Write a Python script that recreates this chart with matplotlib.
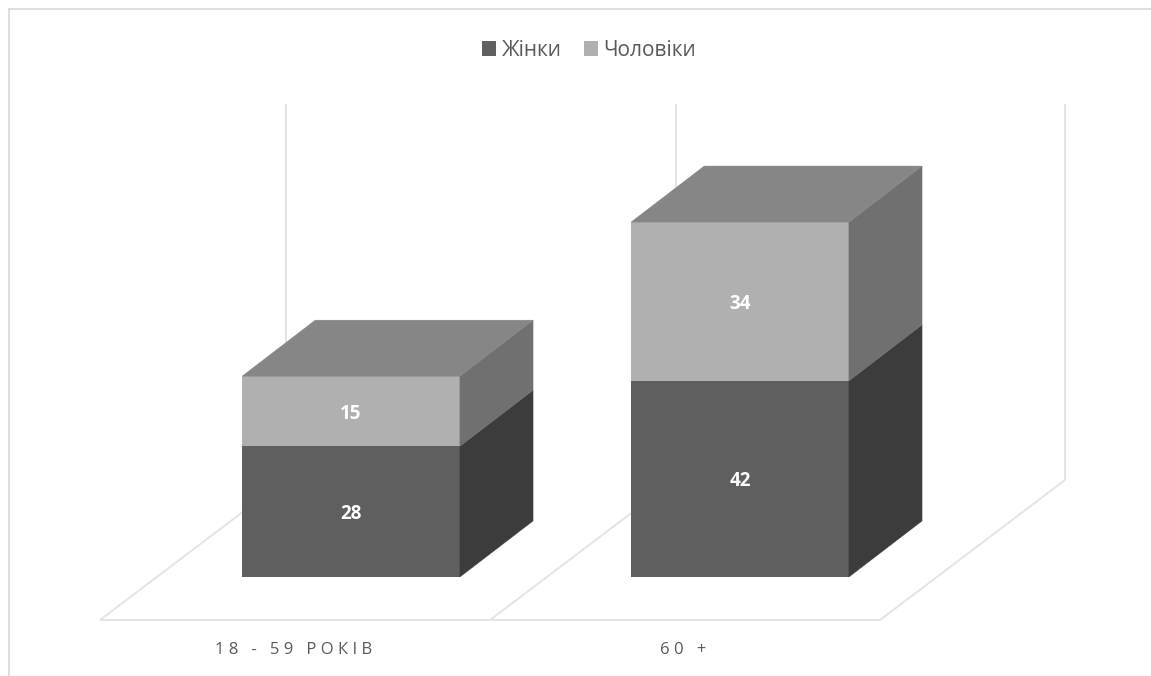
#!/usr/bin/env python3
import matplotlib
matplotlib.use('Agg')
import matplotlib.pyplot as plt
from matplotlib.patches import Patch, Polygon

categories = ['18 - 59 РОКІВ', '60 +']
women = [28, 42]
men = [15, 34]
series_names = ['Жінки', 'Чоловіки']

WIDTH, HEIGHT = 1151, 676
BAR_WIDTH = 0.56
DEPTH_X, DEPTH_Y = 0.188, 12.0   # how far the box top recedes
PX_X, PX_Y = 389.0, 4.67         # pixels per category / per unit
X0_PX, Y0_PX = 351.0, 577.0      # where category 0 and value 0 land
LABEL_X_PX = [294, 683]

DARK, DARK_SIDE = '#5f5f5f', '#3c3c3c'
LIGHT, LIGHT_SIDE = '#b0b0b0', '#707070'
TOP = '#868686'
GRID = '#e4e4e4'
TEXT = '#595959'

plt.rcParams['font.family'] = ['Open Sans', 'DejaVu Sans']


def px(x, y):
    # frame and floor are laid out in pixels, convert them to data units
    return (x - X0_PX) / PX_X, (Y0_PX - y) / PX_Y


def pxline(ax, pts, color=GRID, lw=1.4):
    xs, ys = zip(*[px(*p) for p in pts])
    ax.plot(xs, ys, color=color, lw=lw, solid_capstyle='butt',
            solid_joinstyle='miter', zorder=1)


def side_face(ax, x, bottom, top, color):
    right = x + BAR_WIDTH / 2
    ax.add_patch(Polygon([(right, bottom), (right + DEPTH_X, bottom + DEPTH_Y),
                          (right + DEPTH_X, top + DEPTH_Y), (right, top)],
                         closed=True, fc=color, ec=color, lw=0.3, zorder=3))


def top_face(ax, x, top, color):
    left, right = x - BAR_WIDTH / 2, x + BAR_WIDTH / 2
    ax.add_patch(Polygon([(left, top), (right, top),
                          (right + DEPTH_X, top + DEPTH_Y),
                          (left + DEPTH_X, top + DEPTH_Y)],
                         closed=True, fc=color, ec=color, lw=0.3, zorder=3))


fig = plt.figure(figsize=(WIDTH / 100, HEIGHT / 100), dpi=100)
ax = fig.add_axes([0, 0, 1, 1])
ax.set_xlim(-X0_PX / PX_X, (WIDTH - X0_PX) / PX_X)
ax.set_ylim((Y0_PX - HEIGHT) / PX_Y, Y0_PX / PX_Y)
ax.axis('off')

# outer frame, only top and left are visible
pxline(ax, [(8.5, 676), (8.5, 9.5), (1151, 9.5)], color='#dcdcdc', lw=1.3)

# back wall and floor
for wall_x in [286, 676, 1065]:
    pxline(ax, [(wall_x, 104), (wall_x, 480)])
pxline(ax, [(100, 620), (880, 620)])
pxline(ax, [(100, 620), (285, 480)])
pxline(ax, [(490, 620), (675, 480)])
pxline(ax, [(880, 620), (1065, 480)])

# boxes
for i in range(len(categories)):
    total = women[i] + men[i]
    ax.bar(i, women[i], BAR_WIDTH, color=DARK, zorder=3)
    ax.bar(i, men[i], BAR_WIDTH, bottom=women[i], color=LIGHT, zorder=3)
    side_face(ax, i, 0, women[i], DARK_SIDE)
    side_face(ax, i, women[i], total, LIGHT_SIDE)
    top_face(ax, i, total, TOP)
    ax.text(i, women[i] / 2, str(women[i]), color='white', fontsize=13.5,
            fontweight='bold', ha='center', va='center_baseline', zorder=4)
    ax.text(i, women[i] + men[i] / 2, str(men[i]), color='white', fontsize=13.5,
            fontweight='bold', ha='center', va='center_baseline', zorder=4)
    lx, ly = px(LABEL_X_PX[i], 648)
    ax.text(lx, ly, ' '.join(categories[i]), color=TEXT, fontsize=12,
            ha='center', va='center_baseline')

handles = [Patch(fc=DARK, ec='none', label=series_names[0]),
           Patch(fc=LIGHT, ec='none', label=series_names[1])]
ax.legend(handles=handles, ncol=2, loc='center', frameon=False,
          bbox_to_anchor=(589 / WIDTH, 1 - 50 / HEIGHT),
          fontsize=15, labelcolor=TEXT, handlelength=0.7, handleheight=0.7,
          handletextpad=0.25, columnspacing=1.05, borderpad=0, borderaxespad=0)

fig.savefig('out.png', dpi=100, facecolor='white')
